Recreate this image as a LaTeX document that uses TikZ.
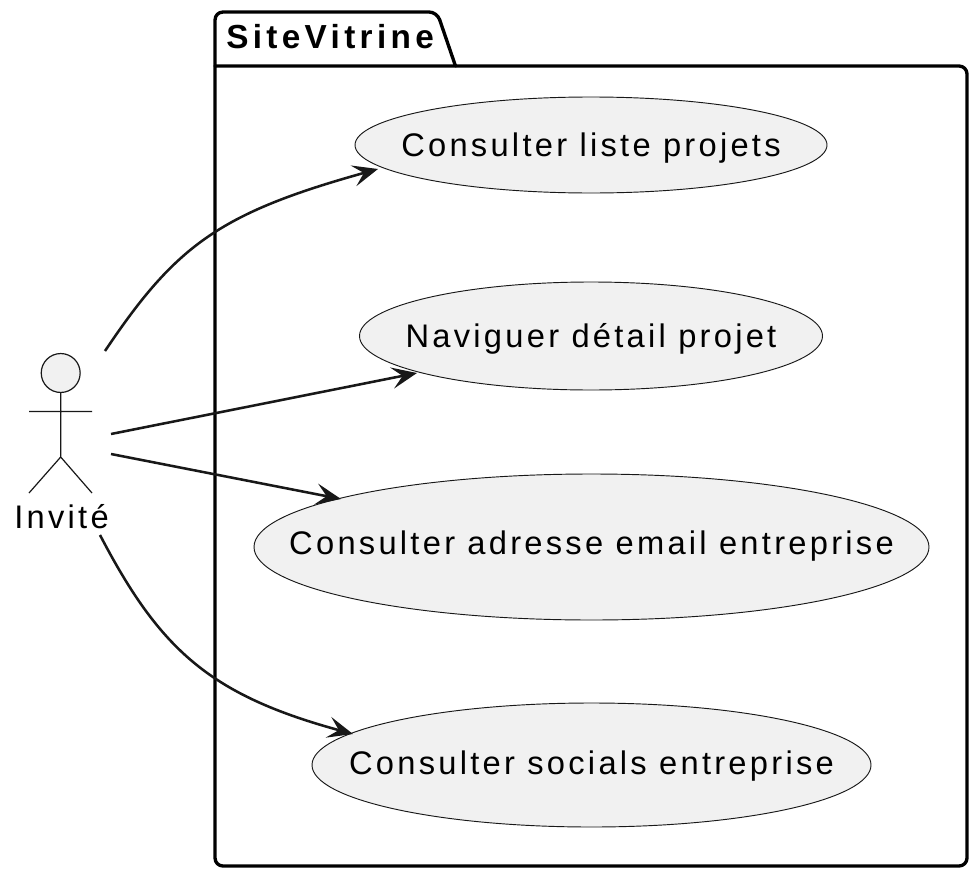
\documentclass[tikz,border=0pt]{standalone}
\usepackage{fontspec}
\setmainfont{Liberation Sans}
\usetikzlibrary{arrows.meta,shapes.geometric}
\definecolor{fillc}{HTML}{F1F1F1}
\definecolor{linec}{HTML}{181818}
\newcommand{\uctext}[2]{\makebox[0pt][c]{\raisebox{#1}[0pt][0pt]{#2}}}
\tikzset{x=0.75pt,y=-0.75pt,
 usecase/.style={draw=linec,fill=fillc,ellipse,line width=0.7pt,inner sep=0,outer sep=0,font=\fontsize{24.5}{28}\selectfont\addfontfeatures{LetterSpace=10},text=black},
 conn/.style={draw=linec,line width=1.9pt,-{Stealth[length=19pt,width=16pt,inset=8pt]}},
 pkgline/.style={draw=black,line width=2.5pt,line cap=round,line join=round}}
\begin{document}
\begin{tikzpicture}
\useasboundingbox (0,0) rectangle (978,878);
\fill[white] (0,0) rectangle (978,878);
\draw[pkgline,rounded corners=6pt] (215,66) -- (967,66) -- (967,866) -- (215,866) -- (215,66);
\draw[pkgline,rounded corners=6pt] (215,66) -- (215,12) -- (437,12) -- (455.5,66);
\node[font=\bfseries\fontsize{25}{28}\selectfont\addfontfeatures{LetterSpace=13},anchor=base west,inner sep=0] (pkg) at (226,48) {SiteVitrine};
\node[usecase,minimum width=472*0.75pt,minimum height=96*0.75pt] (a) at (591,145) {\uctext{-8.25pt}{Consulter liste projets}};
\node[usecase,minimum width=463*0.75pt,minimum height=108*0.75pt] (b) at (591,336) {\uctext{-8.25pt}{Naviguer détail projet}};
\node[usecase,minimum width=675*0.75pt,minimum height=146*0.75pt] (c) at (591.5,547) {\uctext{-5.25pt}{Consulter adresse email entreprise}};
\node[usecase,minimum width=559*0.75pt,minimum height=124*0.75pt] (d) at (591.5,765) {\uctext{-6.75pt}{Consulter socials entreprise}};
\coordinate (head) at (60.7,373);
\draw[linec,line width=0.9pt,fill=fillc] (head) circle[radius=14.6pt];
\draw[linec,line width=0.9pt] (60.7,392) -- (60.7,457) -- (29,493) (60.7,457) -- (92,493) (29,411.5) -- (92,411.5);
\node[font=\fontsize{24.5}{28}\selectfont\addfontfeatures{LetterSpace=10},inner sep=0] (inv) at (61.5,517) {Invité};
\coordinate (s1) at (105,351);
\coordinate (s2) at (111,434);
\coordinate (s3) at (111,454);
\coordinate (s4) at (100,535);
\draw[conn] (s1) .. controls (176,245) and (220,213) .. (378,169);
\draw[conn] (s2) -- (417,373);
\draw[conn] (s3) -- (341,499);
\draw[conn] (s4) .. controls (160,650) and (210,695) .. (353,734);
\end{tikzpicture}
\end{document}
